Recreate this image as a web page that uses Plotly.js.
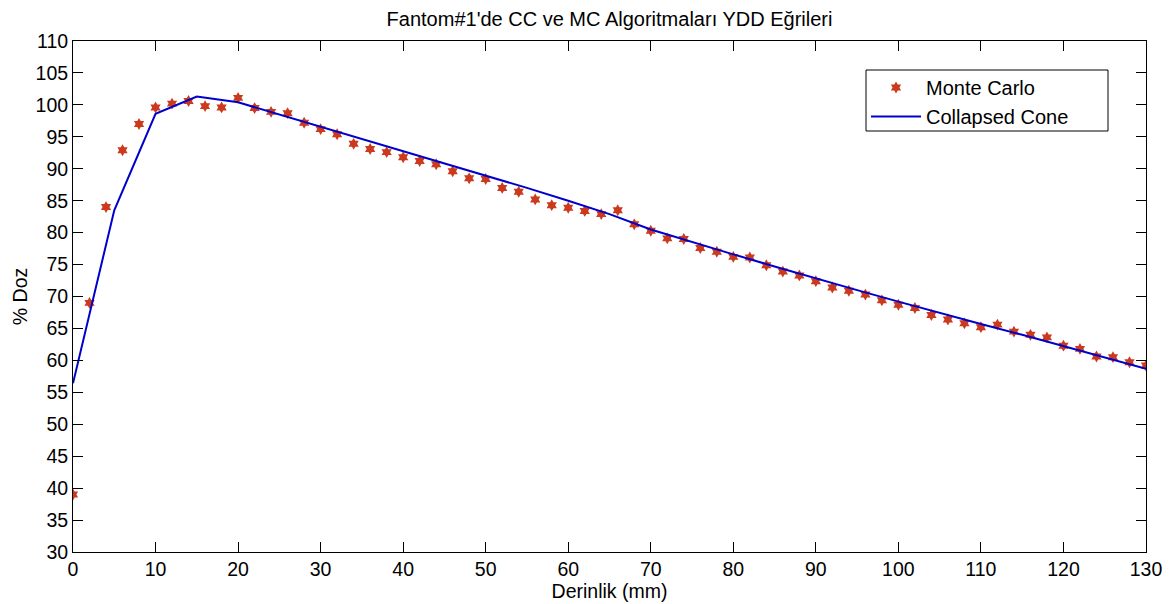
<!DOCTYPE html>
<html>
<head>
<meta charset="utf-8">
<script src="https://cdn.plot.ly/plotly-3.0.1.min.js"></script>
<style>html,body{margin:0;padding:0;background:#fff;}#chart{width:1173px;height:604px;}</style>
</head>
<body>
<div id="chart"></div>
<script>
// Monte Carlo depth (mm) and dose (%)
const mcDepth = [0,2,4,6,8,10,12,14,16,18,20,22,24,26,28,30,32,34,36,38,40,42,44,46,48,50,52,54,56,58,60,62,64,66,68,70,72,74,76,78,80,82,84,86,88,90,92,94,96,98,100,102,104,106,108,110,112,114,116,118,120,122,124,126,128,130];
const mcDose = [39.0,69.0,84.0,92.9,97.0,99.6,100.2,100.6,99.8,99.6,101.1,99.5,98.9,98.7,97.2,96.2,95.4,93.9,93.1,92.6,91.8,91.2,90.7,89.6,88.5,88.4,87.0,86.4,85.2,84.3,83.9,83.4,82.9,83.5,81.3,80.3,79.1,79.0,77.6,77.0,76.2,76.1,74.9,73.9,73.3,72.4,71.4,70.9,70.3,69.4,68.7,68.2,67.1,66.4,65.8,65.2,65.6,64.5,64.0,63.6,62.3,61.8,60.6,60.5,59.7,59.2];
// Collapsed Cone depth (mm) and dose (%)
const ccDepth = [0,5,10,15,20,25,30,35,40,45,50,55,60,65,70,75,80,85,90,95,100,105,110,115,120,125,130];
const ccDose = [56.4,83.5,98.6,101.3,100.4,98.5,96.6,94.7,92.8,90.9,89.0,87.0,85.0,82.9,80.5,78.5,76.6,74.7,72.8,71.0,69.2,67.4,65.7,64.0,62.2,60.5,58.7];

const titleText = "Fantom#1'de CC ve MC Algoritmaları YDD Eğrileri";
const xTitle = "Derinlik (mm)";
const yTitle = "% Doz";

const font = "Liberation Sans, Arial, sans-serif";
const fs = 19.5;

const traces = [
  {x: mcDepth, y: mcDose, mode: 'markers', name: 'Monte Carlo', type: 'scatter',
   marker: {symbol: 'hexagram', size: 9, color: '#cc3a1e', line: {width: 0}}},
  {x: ccDepth, y: ccDose, mode: 'lines', name: 'Collapsed Cone', type: 'scatter',
   line: {color: '#0000cc', width: 2}}
];

const axisCommon = {
  showgrid: false, zeroline: false, showline: true, linecolor: '#000', linewidth: 1,
  mirror: 'ticks', ticks: 'inside', ticklen: 10, tickcolor: '#000', tickwidth: 1,
  tickfont: {family: font, size: fs, color: '#000'}
};

const layout = {
  width: 1173, height: 604,
  margin: {l: 73, r: 27, t: 41, b: 52},
  paper_bgcolor: '#fff', plot_bgcolor: '#fff',
  showlegend: true,
  title: {text: titleText, font: {family: font, size: 20, color: '#000'},
    xref: 'paper', x: 0.5, xanchor: 'center', yref: 'container', y: 0.9685, yanchor: 'middle'},
  xaxis: Object.assign({}, axisCommon, {range: [0, 130], dtick: 10, tick0: 0,
    title: {text: xTitle, font: {family: font, size: fs, color: '#000'}, standoff: 0}}),
  yaxis: Object.assign({}, axisCommon, {range: [30, 110], dtick: 5, tick0: 30,
    title: {text: yTitle, font: {family: font, size: fs, color: '#000'}, standoff: 2}}),
  legend: {x: (866 - 73) / 1073, y: (552 - 68) / 511, xanchor: 'left', yanchor: 'top',
    bgcolor: 'rgba(0,0,0,0)', borderwidth: 0, font: {family: font, size: 20, color: '#000'},
    tracegroupgap: 0, itemwidth: 50},
  shapes: [{type: 'rect', xref: 'paper', yref: 'paper', layer: 'above',
    x0: (866 - 73) / 1073, x1: (1108 - 73) / 1073, y0: (552 - 131) / 511, y1: (552 - 70) / 511,
    line: {color: '#000', width: 1}, fillcolor: 'rgba(255,255,255,0)'}]
};

Plotly.newPlot('chart', traces, layout, {displayModeBar: false, staticPlot: true});
</script>
</body>
</html>
